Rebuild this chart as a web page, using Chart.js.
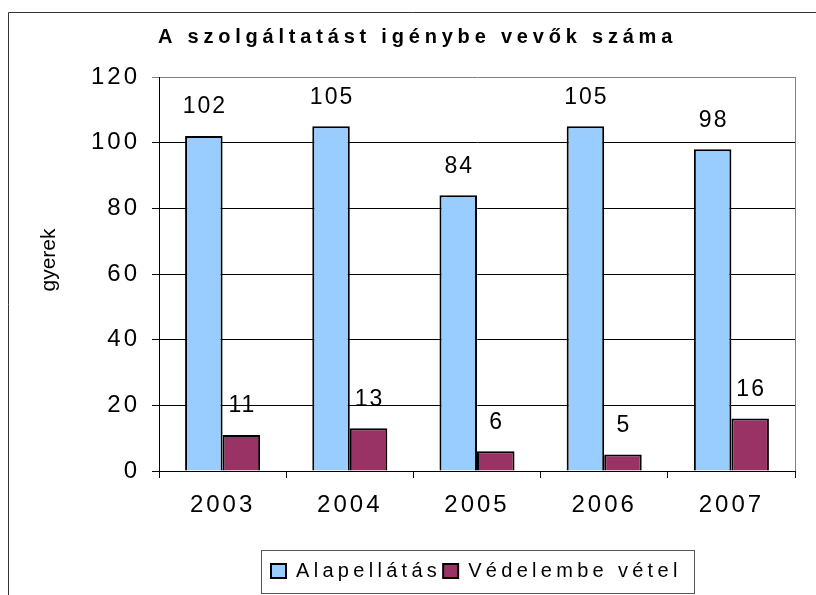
<!DOCTYPE html>
<html>
<head>
<meta charset="utf-8">
<script src="https://cdn.jsdelivr.net/npm/chart.js@4"></script>
<style>
  html, body { margin: 0; padding: 0; background: #fff; }
  #wrap { width: 816px; height: 595px; }
</style>
</head>
<body>
<div id="wrap"><canvas id="chart"></canvas></div>
<script>
const years = ['2003', '2004', '2005', '2006', '2007'];
const alapellatas = [102, 105, 84, 105, 98];
const vedelembe = [11, 13, 6, 5, 16];
const yMin = 0;
const yMax = 120;
const yStep = 20;

const FONT = '"Liberation Sans", Arial, sans-serif';

// wrap a box's method so its text is drawn with extra letter spacing
function spaced(obj, name, spacing, dx, dy) {
  const orig = obj[name].bind(obj);
  obj[name] = function (...args) {
    const ctx = obj.ctx || obj.chart.ctx;
    ctx.save();
    ctx.letterSpacing = spacing;
    if (dx || dy) ctx.translate(dx || 0, dy || 0);
    const r = orig(...args);
    ctx.restore();
    return r;
  };
}

// the Excel original has wide, spaced-out text everywhere
const textSpacing = {
  id: 'textSpacing',
  afterInit(chart) {
    spaced(chart.titleBlock, 'draw', '4.8px', 20, 0);
    spaced(chart.legend, 'fit', '4.3px');
    spaced(chart.legend, 'draw', '4.3px');
  },
  afterLayout(chart) {
    const y = chart.scales.y;
    if (!y._titleWrapped) {
      spaced(y, 'drawTitle', '0px', 0, -14);
      y._titleWrapped = true;
    }
    // put the legend where the original has it (hit boxes get rebuilt after this)
    const lg = chart.legend;
    const pad = lg.options.labels.padding;
    const start = (lg.left + pad + lg.right - lg.lineWidths[0]) / 2;
    const dx = 271 - start;
    lg.left += dx;
    lg.right += dx;
  },
  beforeDraw(chart) {
    chart.ctx.letterSpacing = '3px';
  },
  afterDraw(chart) {
    chart.ctx.letterSpacing = '0px';
  }
};

const valueLabels = {
  id: 'valueLabels',
  afterDatasetsDraw(chart) {
    const ctx = chart.ctx;
    ctx.save();
    ctx.letterSpacing = '2px';
    ctx.font = '23px ' + FONT;
    ctx.fillStyle = '#000';
    ctx.textAlign = 'center';
    ctx.textBaseline = 'middle';
    chart.data.datasets.forEach((ds, i) => {
      chart.getDatasetMeta(i).data.forEach((bar, j) => {
        ctx.fillText(ds.data[j], bar.x + 1, bar.y - 29);
      });
    });
    ctx.restore();
  }
};

const frames = {
  id: 'frames',
  afterDraw(chart) {
    const ctx = chart.ctx;
    const ca = chart.chartArea;
    ctx.save();
    // outer chart frame (only left and top are inside the picture)
    ctx.strokeStyle = '#333';
    ctx.lineWidth = 1;
    ctx.beginPath();
    ctx.moveTo(8.5, 600);
    ctx.lineTo(8.5, 12.5);
    ctx.lineTo(830, 12.5);
    ctx.stroke();
    // plot area right border
    ctx.strokeStyle = '#808080';
    ctx.beginPath();
    ctx.moveTo(Math.round(ca.right) + 0.5, ca.top);
    ctx.lineTo(Math.round(ca.right) + 0.5, ca.bottom);
    ctx.stroke();
    // legend frame
    const boxes = chart.legend.legendHitBoxes;
    if (boxes.length) {
      const last = boxes[boxes.length - 1];
      const l = boxes[0].left - 10;
      const r = last.left + last.width + 12;
      ctx.strokeStyle = '#555';
      ctx.strokeRect(Math.round(l) + 0.5, 550.5, Math.round(r - l), 43);
    }
    ctx.restore();
  }
};

new Chart(document.getElementById('chart'), {
  type: 'bar',
  data: {
    labels: years,
    datasets: [
      {
        label: 'Alapellátás',
        data: alapellatas,
        backgroundColor: '#99CCFF',
        borderColor: '#000',
        borderWidth: 2,
        categoryPercentage: 0.59,
        barPercentage: 1
      },
      {
        label: 'Védelembe vétel',
        data: vedelembe,
        backgroundColor: '#993366',
        borderColor: '#000',
        borderWidth: 2,
        categoryPercentage: 0.59,
        barPercentage: 1
      }
    ]
  },
  options: {
    responsive: true,
    maintainAspectRatio: false,
    animation: false,
    layout: { padding: { left: 0, right: 21, top: 0, bottom: 4 } },
    plugins: {
      title: {
        display: true,
        text: 'A szolgáltatást igénybe vevők száma',
        color: '#000',
        font: { family: FONT, size: 20, weight: 'bold' },
        padding: { top: 25, bottom: 28 }
      },
      legend: {
        position: 'bottom',
        labels: {
          color: '#000',
          font: { family: FONT, size: 20 },
          boxWidth: 15,
          boxHeight: 14,
          padding: 2
        }
      },
      tooltip: { enabled: false }
    },
    scales: {
      x: {
        grid: {
          offset: true,
          drawOnChartArea: false,
          color: '#000',
          tickLength: 7
        },
        border: { color: '#000', width: 1 },
        ticks: {
          color: '#000',
          font: { family: FONT, size: 24 },
          padding: 13
        },
        afterFit(scale) { scale.height = 88; }
      },
      y: {
        min: yMin,
        max: yMax,
        ticks: {
          stepSize: yStep,
          color: '#000',
          font: { family: FONT, size: 24 },
          padding: 12
        },
        grid: {
          color: ctx => (ctx.tick && ctx.tick.value === yMax ? '#808080' : '#000'),
          tickLength: 7
        },
        border: { color: '#000', width: 1 },
        title: {
          display: true,
          text: 'gyerek',
          color: '#000',
          font: { family: FONT, size: 21 },
          padding: { top: 37, bottom: 0 }
        },
        afterFit(scale) { scale.width = 159; }
      }
    }
  },
  plugins: [textSpacing, valueLabels, frames]
});
</script>
</body>
</html>
